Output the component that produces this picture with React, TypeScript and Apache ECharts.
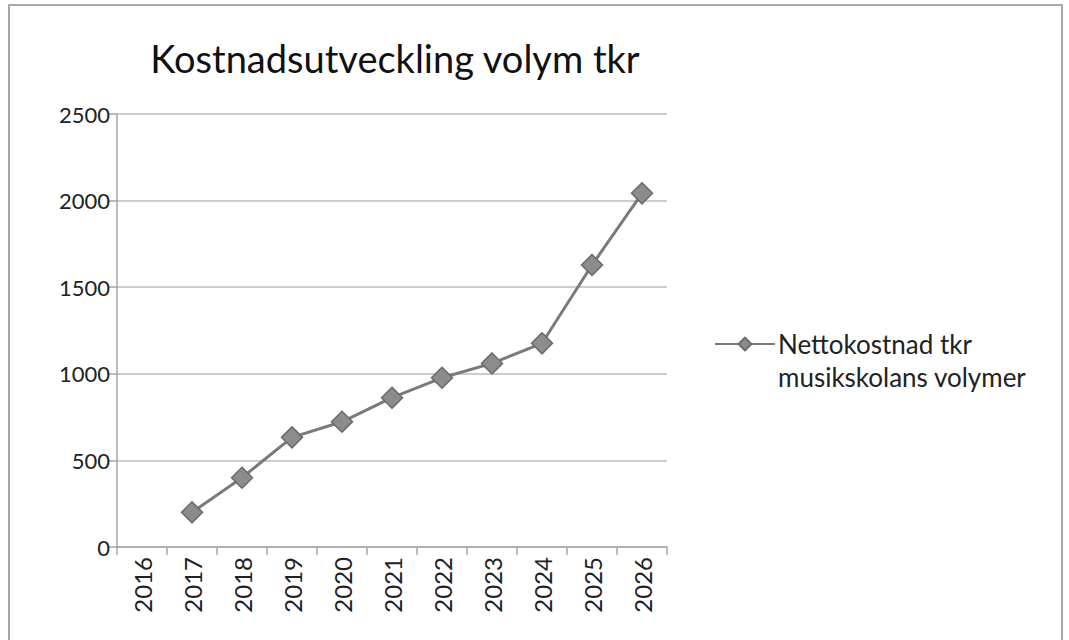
import React, { useEffect, useRef } from "react";
import * as echarts from "echarts";

const titleText = "Kostnadsutveckling volym tkr";
const seriesName = "Nettokostnad tkr\nmusikskolans volymer";
const years = ["2016", "2017", "2018", "2019", "2020", "2021", "2022", "2023", "2024", "2025", "2026"];
const values: (number | null)[] = [null, 200, 400, 633, 723, 862, 977, 1060, 1176, 1628, 2042];
const yTicks = { min: 0, max: 2500, interval: 500 };

export default function App() {
  const ref = useRef<HTMLDivElement>(null);
  useEffect(() => {
    if (!ref.current) return;
    const chart = echarts.init(ref.current, null, { renderer: "svg" });
    const font = "Lato, 'Open Sans', sans-serif";
    chart.setOption({
      animation: false,
      backgroundColor: "#ffffff",
      title: {
        text: titleText,
        left: 390,
        textAlign: "center",
        top: 34,
        textStyle: { fontFamily: font, fontSize: 38, fontWeight: "normal", color: "#111" },
      },
      legend: {
        left: 714,
        top: 331,
        padding: 0,
        itemWidth: 60,
        itemHeight: 16,
        itemGap: 0,
        formatter: () => "Nettokostnad tkr",
        textStyle: { fontFamily: font, fontSize: 26, color: "#222", padding: [0, 0, 0, -2] },
        data: [seriesName],
      },
      graphic: [
        {
          type: "rect",
          shape: { x: 9, y: 5, width: 1053, height: 660 },
          style: { fill: "none", stroke: "#a8a8a8", lineWidth: 2 },
        },
        {
          type: "text",
          left: 778,
          top: 364,
          style: { text: "musikskolans volymer", font: `26px ${font}`, fill: "#222" },
        },
      ],
      grid: { left: 117, right: 402, top: 114, bottom: 93, containLabel: false },
      xAxis: {
        type: "category",
        data: years,
        boundaryGap: true,
        axisLine: { lineStyle: { color: "#a6a6a6", width: 1.5 } },
        axisTick: { show: true, length: 8, lineStyle: { color: "#a6a6a6", width: 1.5 } },
        axisLabel: { rotate: 90, margin: 10, fontFamily: font, fontSize: 24, color: "#222" },
      },
      yAxis: {
        type: "value",
        min: yTicks.min,
        max: yTicks.max,
        interval: yTicks.interval,
        axisLine: { show: true, lineStyle: { color: "#a6a6a6", width: 1.5 } },
        axisTick: { show: true, length: 8, lineStyle: { color: "#a6a6a6", width: 1.5 } },
        axisLabel: { margin: 7, fontFamily: font, fontSize: 22, color: "#222", formatter: (v: number) => String(v) },
        splitLine: { lineStyle: { color: "#bdbdbd", width: 1.5 } },
      },
      series: [
        {
          name: seriesName,
          type: "line",
          data: values,
          connectNulls: false,
          symbol: "diamond",
          symbolSize: 21,
          lineStyle: { color: "#7a7a7a", width: 3 },
          itemStyle: { color: "#8c8c8c", borderColor: "#6a6a6a", borderWidth: 1.5 },
        },
      ],
    });
    return () => chart.dispose();
  }, []);
  return (
    <div
      ref={ref}
      style={{ position: "absolute", left: 0, top: 0, width: 1069, height: 640 }}
    />
  );
}
